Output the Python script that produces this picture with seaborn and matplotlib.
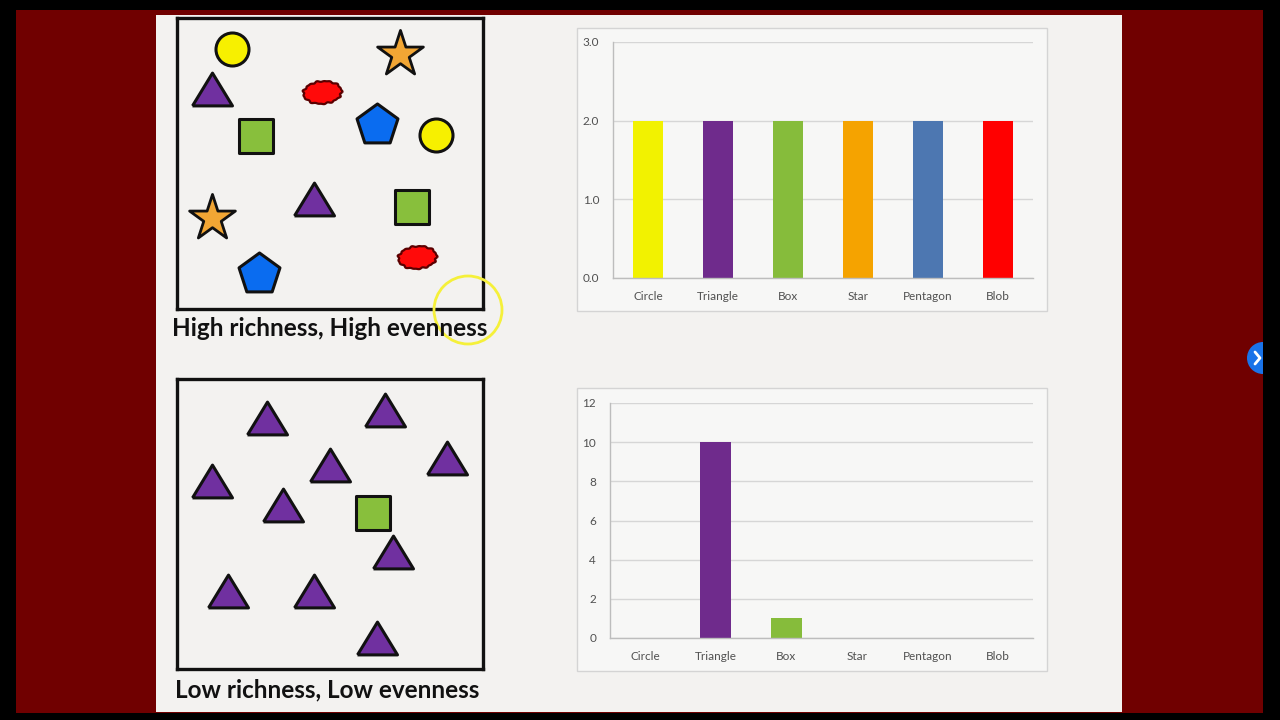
import numpy as np
import pandas as pd
import matplotlib
matplotlib.use("Agg")
import matplotlib.pyplot as plt
import seaborn as sns
from matplotlib.patches import Rectangle, Circle

# bar chart data
categories = ["Circle", "Triangle", "Box", "Star", "Pentagon", "Blob"]
high_counts = [2, 2, 2, 2, 2, 2]
low_counts = [0, 10, 1, 0, 0, 0]
bar_colors = ["#f2f200", "#6f2b8c", "#86bc3b", "#f5a300", "#4d77b1", "#ff0000"]

# shapes drawn inside the two boxes (pixel positions on the slide)
top_kind = ["circle", "star", "triangle", "blob", "pentagon", "box",
            "circle", "triangle", "box", "star", "blob", "pentagon"]
top_x = [232, 400, 212, 322, 377, 256, 436, 314, 412, 212, 417, 259]
top_y = [49, 54, 89, 92, 125, 136, 135, 199, 207, 218, 257, 274]

low_kind = ["triangle"] * 10 + ["box"]
low_x = [267, 385, 330, 447, 212, 283, 393, 228, 314, 377, 373]
low_y = [418, 410, 465, 458, 481, 505, 552, 591, 591, 638, 513]

captions = ["High richness, High evenness", "Low richness, Low evenness"]

W, H = 1280, 720
sns.set_style("white")
plt.rcParams["font.family"] = ["Lato", "DejaVu Sans"]

fig = plt.figure(figsize=(12.8, 7.2), dpi=100, facecolor="black")


def px_axes(x0, y0, x1, y1, **kw):
    return fig.add_axes([x0 / W, 1 - y1 / H, (x1 - x0) / W, (y1 - y0) / H], **kw)


# background: red frame, slide, chart frames
bg = px_axes(0, 0, W, H)
bg.set_xlim(0, W)
bg.set_ylim(H, 0)
bg.axis("off")
bg.add_patch(Rectangle((16, 10), 1247, 703, facecolor="#700000", edgecolor="none"))
bg.add_patch(Circle((1263, 358), 16, facecolor="#1a73e8", edgecolor="none"))
bg.plot([1255, 1260, 1255], [352, 358, 364], color="white", lw=2)
bg.add_patch(Rectangle((1263, 0), 17, H, facecolor="black", edgecolor="none"))
bg.add_patch(Rectangle((156, 15), 966, 697, facecolor="#f3f2f0", edgecolor="none"))
for (fx, fy) in [(577, 28), (577, 388)]:
    bg.add_patch(Rectangle((fx, fy), 470, 283, facecolor="#f7f7f6",
                           edgecolor="#d4d4d4", lw=1))

# custom marker outlines
tri = [(-1, -0.82), (1, -0.82), (0, 0.82), (-1, -0.82)]
t = np.linspace(0, 2 * np.pi, 120)
r = 1 + 0.035 * np.sin(11 * t) + 0.03 * np.sin(17 * t + 1) + 0.05 * np.sin(2 * t + 0.5)
blob = list(zip(r * np.cos(t), 0.62 * r * np.sin(t)))

styles = {
    "circle": dict(marker="o", s=565, c="#f7f000", edgecolors="#111111", linewidths=2.2),
    "star": dict(marker="*", s=1200, c="#f2a634", edgecolors="#111111", linewidths=2.0),
    "triangle": dict(marker=tri, s=830, c="#7030a0", edgecolors="#111111", linewidths=2.2),
    "blob": dict(marker=blob, s=830, c="#ff0a0a", edgecolors="#5a0000", linewidths=1.6),
    "pentagon": dict(marker="p", s=960, c="#0a6cf0", edgecolors="#111111", linewidths=2.2),
    "box": dict(marker="s", s=565, c="#88bf3c", edgecolors="#111111", linewidths=2.2),
}


def shape_box(x0, y0, x1, y1, kinds, xs, ys):
    ax = px_axes(x0, y0, x1, y1)
    ax.set_xlim(x0, x1)
    ax.set_ylim(y1, y0)
    ax.set_facecolor("#f3f2f0")
    ax.set_xticks([])
    ax.set_yticks([])
    for sp in ax.spines.values():
        sp.set_linewidth(2.4)
        sp.set_color("#111111")
    df = pd.DataFrame({"kind": kinds, "x": xs, "y": ys})
    for kind, grp in df.groupby("kind"):
        ax.scatter(grp["x"], grp["y"], clip_on=False, zorder=3, **styles[kind])
    return ax


shape_box(177, 18, 483, 309, top_kind, top_x, top_y)
shape_box(177, 379, 483, 669, low_kind, low_x, low_y)


def bar_chart(x0, y0, x1, y1, values, ymax, yticks, fmt):
    ax = px_axes(x0, y0, x1, y1)
    ax.patch.set_alpha(0)
    df = pd.DataFrame({"shape": categories, "count": values})
    sns.barplot(data=df, x="shape", y="count", hue="shape", palette=bar_colors,
                width=0.44, saturation=1, legend=False, ax=ax, edgecolor="none")
    ax.set_xlim(-0.5, 5.5)
    ax.set_ylim(0, ymax)
    ax.set_yticks(yticks)
    ax.set_yticklabels([fmt.format(v) for v in yticks])
    ax.set_xticks(range(6))
    ax.set_xticklabels(categories)
    ax.set_xticks(np.arange(-0.5, 6), minor=True)
    ax.set_axisbelow(True)
    ax.grid(axis="y", color="#d6d6d6", lw=1)
    ax.set_xlabel("")
    ax.set_ylabel("")
    for side in ["top", "right"]:
        ax.spines[side].set_visible(False)
    for side in ["left", "bottom"]:
        ax.spines[side].set_color("#bdbdbd")
        ax.spines[side].set_linewidth(1)
    ax.tick_params(axis="x", which="major", length=0, pad=9, labelsize=8.5, labelcolor="#505050")
    ax.tick_params(axis="x", which="minor", length=3, color="#9a9a9a", direction="out")
    ax.tick_params(axis="y", length=3, color="#bdbdbd", pad=7, labelsize=8.5, labelcolor="#505050")
    return ax


bar_chart(613, 42, 1033, 278, high_counts, 3, [0, 1, 2, 3], "{:.1f}")
bar_chart(610, 403, 1033, 638, low_counts, 12, [0, 2, 4, 6, 8, 10, 12], "{:d}")

# overlay: captions and cursor highlight
top = px_axes(0, 0, W, H)
top.set_xlim(0, W)
top.set_ylim(H, 0)
top.axis("off")
top.patch.set_alpha(0)
top.text(330, 329, captions[0], ha="center", va="center", fontsize=17.5,
         fontweight="bold", color="#111111")
top.text(327, 690, captions[1], ha="center", va="center", fontsize=17.5,
         fontweight="bold", color="#111111")
top.add_patch(Circle((468, 310), 34, facecolor="none", edgecolor="#f5f03a", lw=2))

fig.savefig("out.png", dpi=100, facecolor="black")
